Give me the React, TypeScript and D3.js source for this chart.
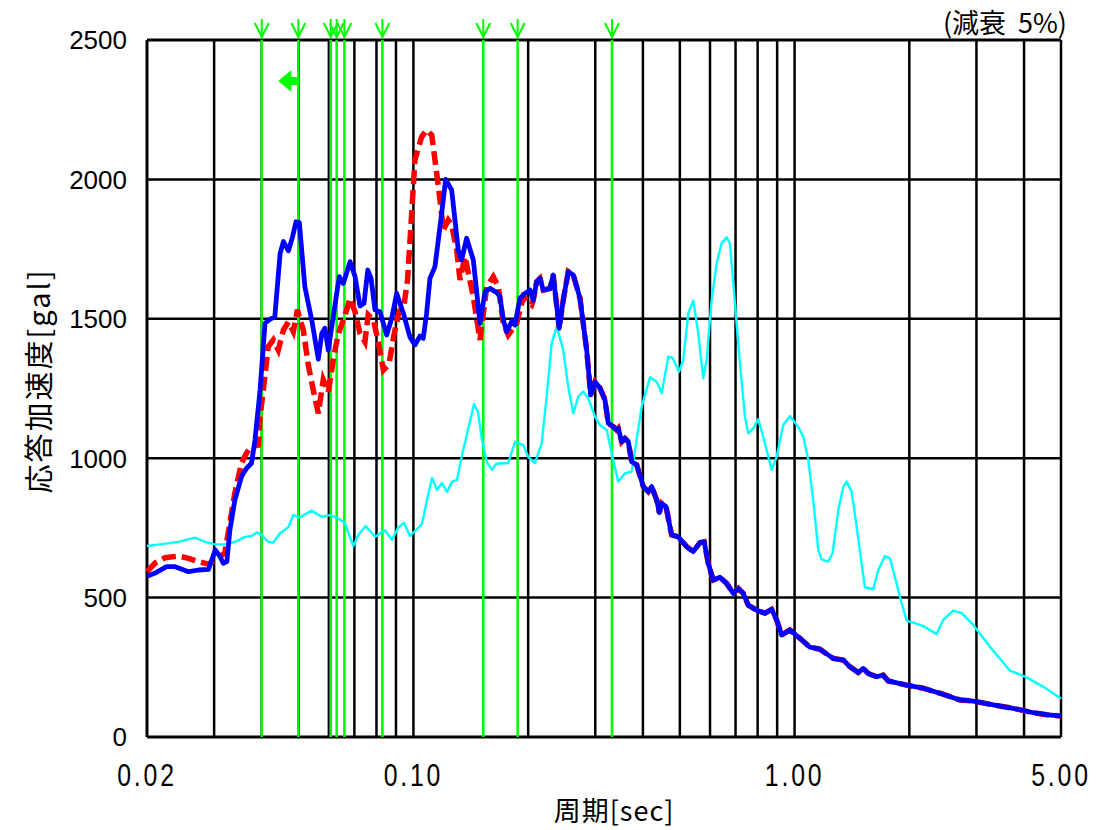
import React from 'react';
import * as d3 from 'd3';

// ---- data ----
const yTicks = [0, 500, 1000, 1500, 2000, 2500];
const xLabelTicks = [0.02, 0.1, 1, 5];
const xLabelTexts = ['0.02', '0.10', '1.00', '5.00'];
const xGridTicks = [0.03, 0.04, 0.05, 0.06, 0.07, 0.08, 0.09, 0.1, 0.2, 0.3, 0.4, 0.5, 0.6, 0.7, 0.8, 0.9, 1, 2, 3, 4];
const markerPeriods = [0.04, 0.0499, 0.0607, 0.0629, 0.0659, 0.0829, 0.1525, 0.1877, 0.3318];

const bluePeriod = [0.02, 0.021, 0.0225, 0.0237, 0.0257, 0.0273, 0.029, 0.0302, 0.0311, 0.0317, 0.0324, 0.033, 0.034, 0.0354, 0.0365, 0.0376, 0.0384, 0.0396, 0.0408, 0.042, 0.0433, 0.0447, 0.0456, 0.047, 0.0482, 0.0492, 0.0502, 0.0519, 0.0541, 0.0563, 0.0575, 0.0586, 0.0598, 0.0616, 0.0639, 0.0655, 0.0682, 0.0703, 0.0724, 0.0742, 0.0759, 0.0774, 0.0793, 0.0817, 0.0851, 0.0877, 0.0904, 0.0941, 0.0979, 0.1009, 0.104, 0.1061, 0.1083, 0.1105, 0.1139, 0.1186, 0.1215, 0.126, 0.1311, 0.1338, 0.1379, 0.1436, 0.1495, 0.1541, 0.1588, 0.1654, 0.1687, 0.1721, 0.1756, 0.181, 0.1847, 0.1903, 0.1962, 0.2022, 0.2063, 0.2105, 0.2148, 0.2191, 0.2281, 0.2327, 0.2413, 0.2472, 0.2548, 0.2627, 0.2735, 0.2848, 0.2918, 0.2995, 0.3086, 0.3181, 0.3245, 0.3345, 0.3414, 0.3447, 0.3519, 0.359, 0.3662, 0.3738, 0.3853, 0.401, 0.4133, 0.4218, 0.4348, 0.4417, 0.4481, 0.4599, 0.4758, 0.4952, 0.521, 0.5422, 0.5645, 0.5793, 0.5935, 0.6117, 0.637, 0.6634, 0.6903, 0.7116, 0.7333, 0.7558, 0.7952, 0.8361, 0.8706, 0.8973, 0.9248, 0.9723, 1.033, 1.097, 1.165, 1.263, 1.342, 1.397, 1.469, 1.514, 1.56, 1.642, 1.708, 1.761, 1.968, 2.175, 2.406, 2.715, 2.943, 3.32, 3.747, 4.228, 4.583, 5.0];
const blueValue = [577, 588, 611, 611, 593, 599, 601, 671, 647, 623, 629, 742, 850, 934, 964, 982, 1065, 1245, 1484, 1498, 1508, 1735, 1777, 1744, 1795, 1848, 1845, 1615, 1496, 1355, 1448, 1466, 1388, 1508, 1651, 1627, 1705, 1651, 1546, 1556, 1675, 1645, 1532, 1525, 1442, 1502, 1591, 1520, 1435, 1406, 1438, 1430, 1520, 1645, 1687, 1878, 2000, 1962, 1747, 1711, 1789, 1711, 1484, 1597, 1609, 1594, 1579, 1496, 1454, 1490, 1478, 1574, 1591, 1603, 1567, 1633, 1645, 1603, 1609, 1657, 1466, 1567, 1669, 1657, 1574, 1388, 1227, 1274, 1252, 1209, 1125, 1113, 1101, 1107, 1059, 1071, 1059, 987, 976, 898, 880, 898, 850, 805, 838, 826, 725, 718, 683, 665, 697, 700, 623, 563, 573, 551, 515, 533, 515, 473, 455, 444, 458, 420, 366, 384, 354, 322, 315, 282, 276, 252, 231, 246, 228, 216, 222, 201, 186, 175, 157, 133, 129, 115, 103, 87, 80, 75];

const redHeadPeriod = [0.02, 0.021, 0.0223, 0.0242, 0.0257, 0.0273, 0.029, 0.0302, 0.032, 0.033, 0.034, 0.0354, 0.0365, 0.0376, 0.0392, 0.0396, 0.0408, 0.0416, 0.0429, 0.0442, 0.0456, 0.047, 0.0484, 0.0496, 0.0514, 0.053, 0.0546, 0.0563, 0.058, 0.0598, 0.0616, 0.0634, 0.0648, 0.0668, 0.0682, 0.0703, 0.0724, 0.0746, 0.0761, 0.0785, 0.0809, 0.0834, 0.0863, 0.0889, 0.0916, 0.0945, 0.0965, 0.0989, 0.1009, 0.1051, 0.1083, 0.1117, 0.1151, 0.1174, 0.1198, 0.1234, 0.126, 0.1299, 0.1325, 0.1365, 0.1436, 0.1495, 0.1557, 0.162, 0.167, 0.1721, 0.1773, 0.1866, 0.1942, 0.2043];
const redHeadValue = [593, 624, 643, 649, 641, 629, 620, 635, 660, 768, 875, 983, 1019, 1041, 1047, 1149, 1298, 1400, 1424, 1388, 1460, 1489, 1454, 1532, 1460, 1334, 1245, 1161, 1281, 1237, 1352, 1442, 1478, 1532, 1574, 1524, 1448, 1417, 1514, 1496, 1417, 1316, 1338, 1442, 1524, 1550, 1639, 1872, 2070, 2153, 2177, 2159, 2022, 1926, 1819, 1854, 1836, 1747, 1639, 1723, 1579, 1424, 1615, 1651, 1615, 1484, 1442, 1484, 1579, 1550];

const cyanPeriod = [0.02, 0.02186, 0.02416, 0.02673, 0.0284, 0.03016, 0.03204, 0.03404, 0.03615, 0.03764, 0.0388, 0.04, 0.04161, 0.04289, 0.04466, 0.04696, 0.0484, 0.0504, 0.05408, 0.05745, 0.0604, 0.0635, 0.06614, 0.06954, 0.07167, 0.07494, 0.07928, 0.08421, 0.08785, 0.09109, 0.09446, 0.09794, 0.1016, 0.1053, 0.1085, 0.1119, 0.1153, 0.1188, 0.1225, 0.1262, 0.1301, 0.1341, 0.139, 0.1442, 0.1477, 0.1513, 0.1559, 0.1607, 0.1646, 0.1687, 0.1773, 0.1847, 0.1942, 0.2, 0.2084, 0.217, 0.2236, 0.2305, 0.2376, 0.2472, 0.2548, 0.2627, 0.2707, 0.279, 0.2876, 0.2995, 0.3086, 0.3214, 0.3312, 0.3447, 0.359, 0.3738, 0.3814, 0.3971, 0.4175, 0.4348, 0.4481, 0.4662, 0.4787, 0.4973, 0.5104, 0.526, 0.5422, 0.5588, 0.5759, 0.5878, 0.6058, 0.6244, 0.6435, 0.6634, 0.6767, 0.6975, 0.7188, 0.7409, 0.7558, 0.779, 0.8029, 0.8275, 0.8706, 0.8973, 0.9338, 0.9723, 1.022, 1.054, 1.086, 1.119, 1.154, 1.177, 1.225, 1.258, 1.302, 1.342, 1.369, 1.411, 1.455, 1.499, 1.529, 1.608, 1.658, 1.726, 1.779, 1.852, 1.909, 1.968, 2.048, 2.175, 2.359, 2.454, 2.607, 2.743, 2.943, 3.255, 3.673, 4.063, 4.492, 5.0];
const cyanValue = [685, 692, 700, 715, 700, 691, 691, 700, 718, 721, 734, 724, 700, 697, 731, 752, 796, 788, 812, 790, 796, 784, 767, 685, 724, 757, 718, 742, 707, 750, 768, 721, 742, 764, 850, 929, 886, 911, 879, 915, 922, 1011, 1101, 1194, 1166, 1065, 986, 958, 979, 982, 982, 1059, 1047, 1005, 982, 1053, 1221, 1412, 1472, 1388, 1256, 1161, 1221, 1239, 1215, 1149, 1119, 1101, 1018, 916, 946, 952, 1029, 1185, 1290, 1274, 1233, 1364, 1360, 1310, 1352, 1520, 1565, 1448, 1287, 1352, 1567, 1699, 1771, 1792, 1771, 1556, 1340, 1149, 1089, 1107, 1140, 1077, 958, 1005, 1119, 1151, 1113, 1077, 994, 850, 671, 637, 629, 659, 814, 898, 916, 880, 754, 623, 537, 530, 599, 649, 641, 551, 480, 417, 410, 398, 369, 420, 453, 444, 402, 324, 238, 214, 180, 138];

// ---- build series ----
type Pt = [number, number];
const zip = (p: number[], v: number[]): Pt[] => p.map((t, i) => [t, v[i]] as Pt);
const blueData = zip(bluePeriod, blueValue);
const lastRed = redHeadPeriod[redHeadPeriod.length - 1];
const redData = zip(redHeadPeriod, redHeadValue).concat(blueData.filter(d => d[0] > lastRed));
const cyanData = zip(cyanPeriod, cyanValue);

const W = 1104, H = 830;
const L = 147, R = 1061, T = 40, B = 737;

export default function App() {
  const x = d3.scaleLog().domain([0.02, 5]).range([L, R]);
  const y = d3.scaleLinear().domain([0, 2500]).range([B, T]);
  const line = d3.line<Pt>().x(d => x(d[0])).y(d => y(d[1])).curve(d3.curveLinear);
  const green = '#00ff00';
  const arrowX = x(markerPeriods[1]);

  return (
    <svg width={W} height={H} viewBox={`0 0 ${W} ${H}`}
      style={{ position: 'absolute', left: 0, top: 0, background: '#fff' }}>
      <rect x={0} y={0} width={W} height={H} fill="#fff" />
      {/* vertical grid */}
      {xGridTicks.map(t => (
        <line key={'vg' + t} x1={x(t)} x2={x(t)} y1={T} y2={B} stroke="#000" strokeWidth={2.5} />
      ))}
      {/* horizontal grid */}
      {yTicks.filter(v => v > 0 && v < 2500).map(v => (
        <line key={'hg' + v} x1={L} x2={R} y1={y(v)} y2={y(v)} stroke="#000" strokeWidth={2.5} />
      ))}
      {/* frame */}
      <line x1={L} x2={R} y1={T} y2={T} stroke="#000" strokeWidth={3} />
      <line x1={L} x2={R} y1={B} y2={B} stroke="#000" strokeWidth={3} />
      <line x1={L} x2={L} y1={T} y2={B} stroke="#000" strokeWidth={3} />
      <line x1={R} x2={R} y1={T} y2={B} stroke="#000" strokeWidth={2.5} />

      {/* green marker lines */}
      {markerPeriods.map(t => (
        <line key={'m' + t} x1={x(t)} x2={x(t)} y1={T} y2={B} stroke={green} strokeWidth={2.6} />
      ))}
      {/* arrows above */}
      {markerPeriods.map(t => {
        const xx = x(t);
        return (
          <g key={'a' + t} stroke={green} strokeWidth={2} fill="none">
            <line x1={xx} x2={xx} y1={19} y2={38} />
            <line x1={xx - 7} x2={xx} y1={23} y2={37} />
            <line x1={xx + 7} x2={xx} y1={23} y2={37} />
          </g>
        );
      })}
      {/* left arrow */}
      <path d={`M${arrowX - 20},81 L${arrowX - 7},70 L${arrowX - 7},77 L${arrowX + 1},77 L${arrowX + 1},85 L${arrowX - 7},85 L${arrowX - 7},92 Z`} fill={green} />

      {/* curves */}
      <path d={line(cyanData) || ''} fill="none" stroke="#00ffff" strokeWidth={2.4} strokeLinejoin="round" />
      <path d={line(redData) || ''} fill="none" stroke="#ff0000" strokeWidth={5.5} strokeDasharray="14 6" />
      <path d={line(blueData) || ''} fill="none" stroke="#0000ff" strokeWidth={4.8} strokeLinejoin="round" />

      {/* y tick labels */}
      {yTicks.map(v => (
        <text key={'yl' + v} x={127} y={y(v)} dy="0.36em" textAnchor="end"
          fontFamily="'Liberation Sans', Arial, sans-serif" fontSize={26} fill="#000">{v}</text>
      ))}
      {/* x tick labels */}
      {xLabelTicks.map((t, i) => (
        <text key={'xl' + t} transform={`translate(${x(t)},786) scale(0.8,1)`} textAnchor="middle"
          fontFamily="'Liberation Sans', Arial, sans-serif" fontSize={31} letterSpacing={3.5} fill="#000">{xLabelTexts[i]}</text>
      ))}
      {/* axis titles */}
      <text x={614} y={821} textAnchor="middle" fontFamily="'Noto Sans CJK JP', sans-serif" fontSize={27}
        letterSpacing={1} fill="#000">周期[sec]</text>
      <text transform="translate(50,381) rotate(-90)" textAnchor="middle" fontFamily="'Noto Sans CJK JP', sans-serif"
        fontSize={29} letterSpacing={2} fill="#000">応答加速度[gal]</text>
      <text x={1067} y={33} textAnchor="end" fontFamily="'Noto Sans CJK JP', sans-serif" fontSize={27} fill="#000">
        <tspan>(減衰</tspan><tspan dx={12}>5%)</tspan>
      </text>
    </svg>
  );
}
